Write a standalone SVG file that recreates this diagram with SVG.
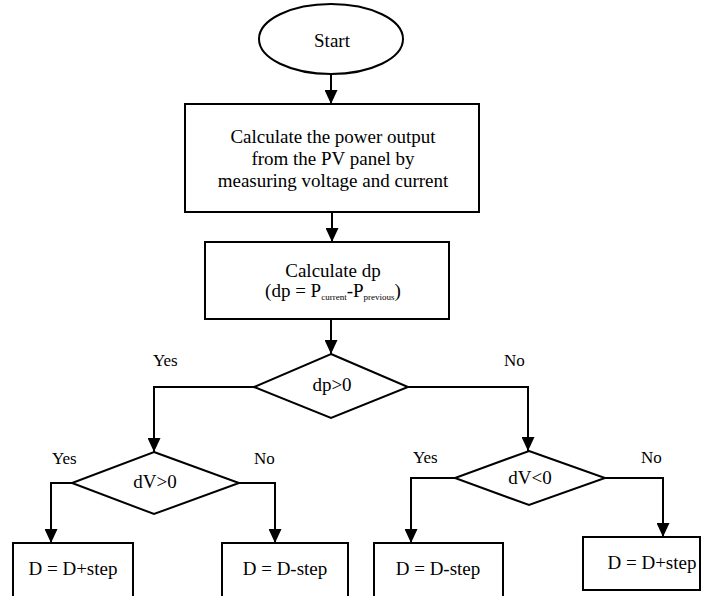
<svg xmlns="http://www.w3.org/2000/svg" width="702" height="596" viewBox="0 0 702 596" font-family="'Liberation Serif', 'DejaVu Serif', serif">
<style>
.s{fill:#fff;stroke:#000;stroke-width:2}
.c{fill:none;stroke:#000;stroke-width:2}
.t{font-size:19px;text-anchor:middle}
.l{font-size:17px}
</style>
<defs>
<marker id="ah" markerUnits="userSpaceOnUse" markerWidth="14" markerHeight="13" refX="14" refY="6.5" orient="auto">
<path d="M0,0 L14,6.5 L0,13 z" fill="#000"/>
</marker>
</defs>
<rect width="702" height="596" fill="#fff"/>
<g id="connectors">
<path class="c" d="M331,74 V104" marker-end="url(#ah)"/>
<path class="c" d="M332,212 V242" marker-end="url(#ah)"/>
<path class="c" d="M331,319 V354" marker-end="url(#ah)"/>
<path class="c" d="M254,387 H154 V452" marker-end="url(#ah)"/>
<path class="c" d="M408,387 H528 V451" marker-end="url(#ah)"/>
<path class="c" d="M72,483 H51 V543" marker-end="url(#ah)"/>
<path class="c" d="M239,483 H275 V543" marker-end="url(#ah)"/>
<path class="c" d="M455,478 H411 V543" marker-end="url(#ah)"/>
<path class="c" d="M605,478 H663 V537" marker-end="url(#ah)"/>
</g>
<g id="start">
<ellipse class="s" cx="331" cy="39" rx="72" ry="35"/>
<text class="t" x="332" y="47">Start</text>
</g>
<g id="calc-power">
<rect class="s" x="185" y="104" width="294" height="108"/>
<text class="t" x="333" y="143">Calculate the power output</text>
<text class="t" x="333" y="165">from the PV panel by</text>
<text class="t" x="333" y="187">measuring voltage and current</text>
</g>
<g id="calc-dp">
<rect class="s" x="205" y="242" width="244" height="77"/>
<text class="t" x="333" y="277">Calculate dp</text>
<text class="t" x="333" y="297">(dp = P<tspan font-size="9" dy="3">current</tspan><tspan dy="-3">-P</tspan><tspan font-size="9" dy="3">previous</tspan><tspan dy="-3">)</tspan></text>
</g>
<g id="dp-decision">
<polygon class="s" points="331,354 408,387 331,418 254,387"/>
<text class="t" x="332" y="391">dp&gt;0</text>
</g>
<g id="dv-pos-decision">
<polygon class="s" points="154,452 239,483 154,514 72,483"/>
<text class="t" x="155" y="488">dV&gt;0</text>
</g>
<g id="dv-neg-decision">
<polygon class="s" points="529,451 605,478 529,505 455,478"/>
<text class="t" x="530" y="484">dV&lt;0</text>
</g>
<g id="box-ll">
<rect class="s" x="13" y="543" width="120" height="60"/>
<text class="t" x="73" y="575">D = D+step</text>
</g>
<g id="box-lr">
<rect class="s" x="222" y="543" width="126" height="60"/>
<text class="t" x="285" y="575">D = D-step</text>
</g>
<g id="box-rl">
<rect class="s" x="374" y="543" width="129" height="60"/>
<text class="t" x="438" y="575">D = D-step</text>
</g>
<g id="box-rr">
<rect class="s" x="583" y="537" width="117" height="53"/>
<text class="t" x="652" y="569">D = D+step</text>
</g>
<g id="labels">
<text class="l" x="153" y="366">Yes</text>
<text class="l" x="504" y="366">No</text>
<text class="l" x="52" y="464">Yes</text>
<text class="l" x="254" y="464">No</text>
<text class="l" x="413" y="463">Yes</text>
<text class="l" x="641" y="463">No</text>
</g>
</svg>
